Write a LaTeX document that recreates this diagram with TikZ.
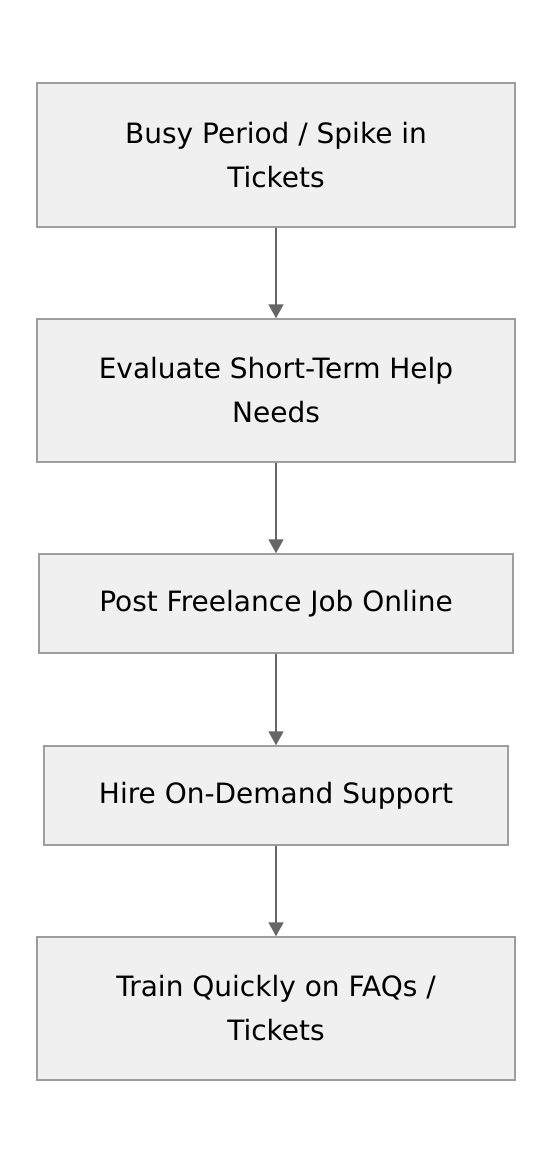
\documentclass[tikz,border=0pt]{standalone}
\usepackage{fontspec}
\setmainfont{DejaVu Sans}
\usetikzlibrary{arrows.meta}
\begin{document}
\begin{tikzpicture}[x=1pt,y=-1pt,
  box/.style={draw=black!38,line width=1.5pt,fill=black!6,inner sep=0pt,align=center,
    font=\fontsize{28}{44}\selectfont},
  conn/.style={draw=black!60,line width=1.8pt,-{Triangle[length=14pt,width=15pt]}}]
\useasboundingbox (0,0) rectangle (552,1164);
\node[box,minimum width=478pt,minimum height=144pt] (a) at (276,155) {Busy Period / Spike in\\Tickets};
\node[box,minimum width=478pt,minimum height=143pt] (b) at (276,390.5) {Evaluate Short-Term Help\\Needs};
\node[box,minimum width=474pt,minimum height=99pt] (c) at (276,603.5) {Post Freelance Job Online};
\node[box,minimum width=464pt,minimum height=99pt] (d) at (276,795.5) {Hire On-Demand Support};
\node[box,minimum width=478pt,minimum height=143pt] (e) at (276,1008.5) {Train Quickly on FAQs /\\Tickets};
\draw[conn] (a) -- (b);
\draw[conn] (b) -- (c);
\draw[conn] (c) -- (d);
\draw[conn] (d) -- (e);
\end{tikzpicture}
\end{document}
